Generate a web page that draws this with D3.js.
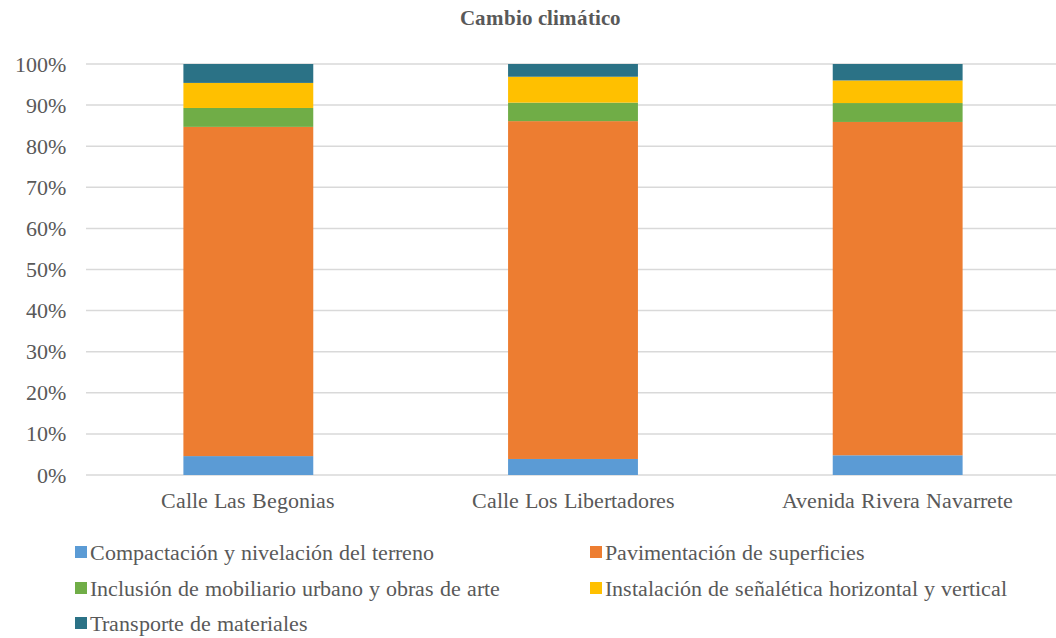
<!DOCTYPE html>
<html>
<head>
<meta charset="utf-8">
<script src="https://cdn.jsdelivr.net/npm/d3@7"></script>
<style>
  @font-face { font-family: "ChartSerif"; src: local("Liberation Serif"), local("LiberationSerif"), local("Tinos"); font-weight: normal; }
  @font-face { font-family: "ChartSerif"; src: local("Liberation Serif Bold"), local("LiberationSerif-Bold"), local("Tinos Bold"); font-weight: bold; }
</style>
</head>
<body style="margin:0">
<svg id="chart" width="1056" height="638"></svg>
<script>
// Share of climate-change impact per construction stage, per street (%)
const categories = ["Calle Las Begonias", "Calle Los Libertadores", "Avenida Rivera Navarrete"];
const seriesNames = [
  "Compactación y nivelación del terreno",
  "Pavimentación de superficies",
  "Inclusión de mobiliario urbano y obras de arte",
  "Instalación de señalética horizontal y vertical",
  "Transporte de materiales"
];
const compactacion = [4.6, 3.9, 4.8];
const pavimentacion = [80.1, 82.2, 81.1];
const mobiliario = [4.6, 4.5, 4.6];
const senaletica = [6.1, 6.3, 5.5];
const transporte = [4.6, 3.1, 4.0];
const yTicks = [0, 10, 20, 30, 40, 50, 60, 70, 80, 90, 100];
const colors = ["#5B9BD5", "#ED7D31", "#70AD47", "#FFC000", "#2B7286"];
const title = "Cambio climático";

const FONT = '"ChartSerif", "Liberation Serif", "Times New Roman", serif';
const TEXT_COLOR = "#595959";

const seriesValues = [compactacion, pavimentacion, mobiliario, senaletica, transporte];
const rows = categories.map((c, i) => {
  const r = { cat: c };
  seriesNames.forEach((s, k) => r[s] = seriesValues[k][i]);
  return r;
});
const stacked = d3.stack().keys(seriesNames)(rows);

const svg = d3.select("#chart");
const margin = { left: 86, right: -4, top: 64, bottom: 163 };
const W = 1056, H = 638;
const x = d3.scaleBand().domain(categories).range([margin.left, W - margin.right]).paddingInner(0.6).paddingOuter(0.3);
const y = d3.scaleLinear().domain([0, 100]).range([H - margin.bottom, margin.top]);

// Title
svg.append("text").attr("x", 540).attr("y", 25).attr("text-anchor", "middle")
  .style("font-family", FONT).attr("font-size", 21).attr("font-weight", "bold")
  .attr("fill", TEXT_COLOR).text(title);

// Gridlines
svg.append("g").selectAll("line").data(yTicks).join("line")
  .attr("x1", margin.left).attr("x2", W)
  .attr("y1", d => y(d)).attr("y2", d => y(d))
  .attr("stroke", "#d9d9d9").attr("stroke-width", 1.5);

// Y axis labels
const yAxis = d3.axisLeft(y).tickValues(yTicks).tickFormat(d => d + "%").tickSize(0).tickPadding(20);
const gy = svg.append("g").attr("transform", `translate(${margin.left},0)`).call(yAxis);
gy.attr("font-family", null);
gy.select(".domain").remove();
gy.selectAll("text").style("font-family", FONT).attr("font-size", 22).attr("fill", TEXT_COLOR);

// Stacked bars
svg.append("g").selectAll("g").data(stacked).join("g")
  .attr("fill", (d, i) => colors[i])
  .selectAll("rect").data(d => d).join("rect")
  .attr("x", d => x(d.data.cat))
  .attr("width", x.bandwidth())
  .attr("y", d => y(d[1]))
  .attr("height", d => y(d[0]) - y(d[1]));

// X axis labels
const xAxis = d3.axisBottom(x).tickSize(0).tickPadding(17);
const gx = svg.append("g").attr("transform", `translate(0,${y(0)})`).call(xAxis);
gx.attr("font-family", null);
gx.select(".domain").remove();
gx.selectAll("text").style("font-family", FONT).attr("font-size", 22).attr("fill", TEXT_COLOR);

// Legend
const legendPos = [[75, 552], [590, 552], [75, 588], [590, 588], [75, 623]];
const lg = svg.append("g").selectAll("g").data(seriesNames).join("g")
  .attr("transform", (d, i) => `translate(${legendPos[i][0]},${legendPos[i][1]})`);
lg.append("rect").attr("x", 0).attr("y", -6).attr("width", 12).attr("height", 12)
  .attr("fill", (d, i) => colors[i]);
lg.append("text").attr("x", 15).attr("y", 8)
  .style("font-family", FONT).attr("font-size", 22)
  .attr("fill", TEXT_COLOR).text(d => d);
</script>
</body>
</html>
